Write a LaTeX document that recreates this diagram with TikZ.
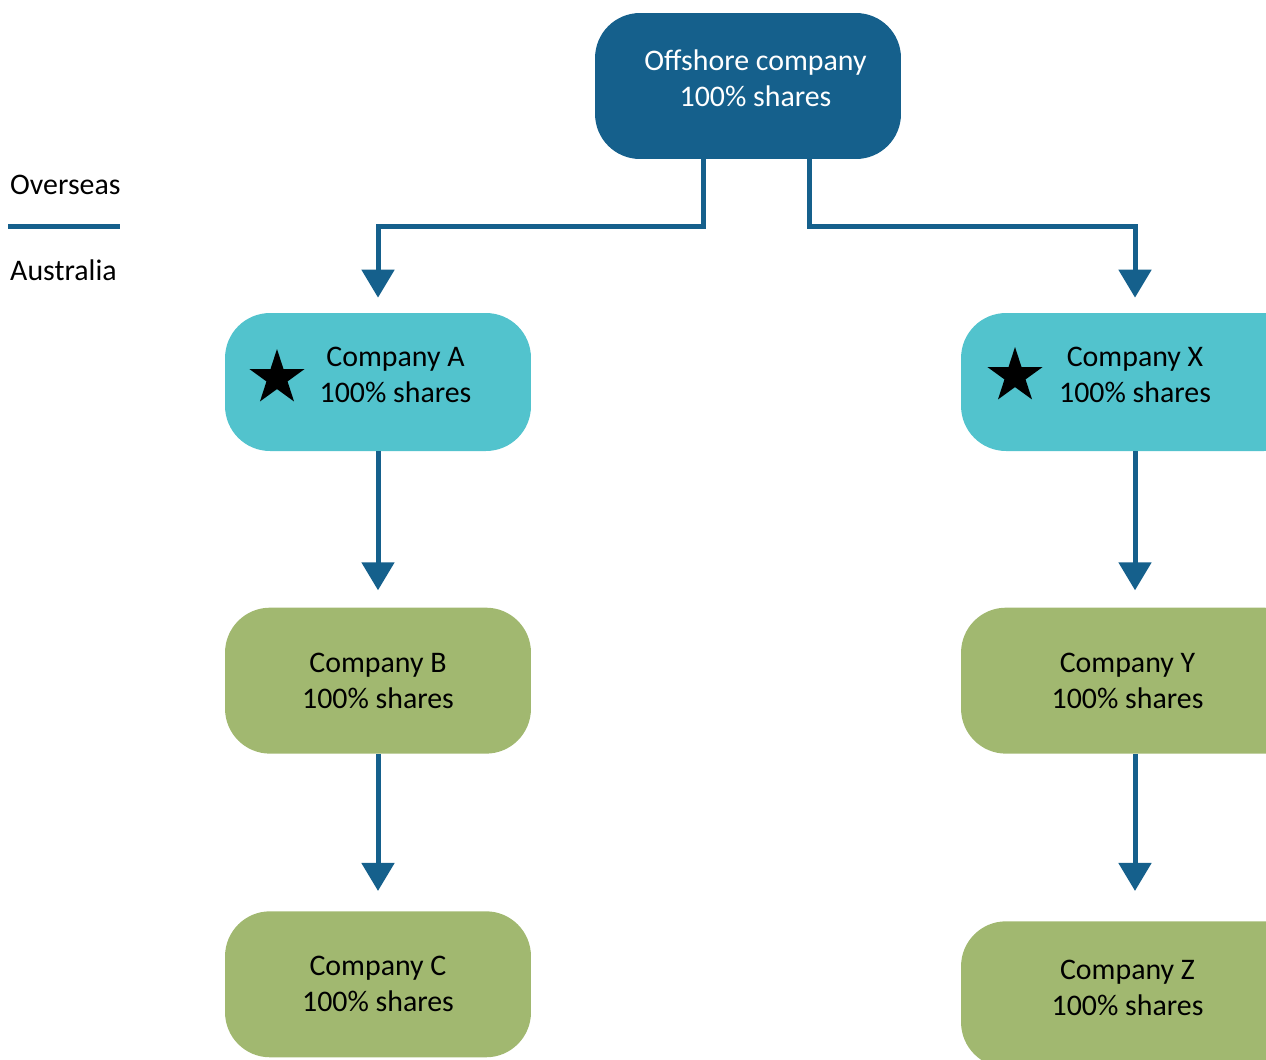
\documentclass[tikz,border=0pt]{standalone}
\usepackage{fontspec}
\setmainfont{Carlito}
\usetikzlibrary{arrows.meta,positioning,shapes.geometric}
\definecolor{ownblue}{RGB}{21,96,140}
\definecolor{owncyan}{RGB}{82,195,205}
\definecolor{owngreen}{RGB}{161,184,112}
\tikzstyle{company}=[
	 rectangle, rounded corners=0.9cm,
	 minimum width=6.12cm, minimum height=2.92cm,
	 align=center, font=\fontsize{17}{20.5}\selectfont
    ]
\tikzstyle{offshore}=[company, fill=ownblue, text=white, text depth=0.3cm]
\tikzstyle{local}=[company, fill=owncyan, minimum height=2.76cm, text depth=0.3cm]
\tikzstyle{sub}=[company, fill=owngreen]
\tikzstyle{wide}=[minimum width=6.96cm]
\tikzstyle{starmark}=[star, star points=5, star point ratio=2.618, fill=black, inner sep=0pt, minimum size=1.16cm]
\tikzstyle{own}=[draw=ownblue, line width=0.1cm, -{Triangle[width=0.64cm,length=0.56cm]}, shorten >=0.3cm]
\newcommand{\pDown}[3]{\draw[own, shorten >=#3] (#1.south) -- (#2.north)}

\begin{document}
\begin{tikzpicture}[x=0.02cm,y=-0.02cm]
\useasboundingbox (0,0) rectangle (1266,1059);

\node[anchor=west, font=\fontsize{17}{20.5}\selectfont] (over) at (4,185) {Overseas};
\node[anchor=west, font=\fontsize{17}{20.5}\selectfont] (aus) at (4,270) {Australia};
\draw[ownblue, line width=0.1cm] (8,226) -- (120,226);

\node[offshore] (O) at (748,86) {\hspace*{0.3cm}Offshore company\\\hspace*{0.3cm}100\% shares};

\node[local] (A) at (378,382) {\hspace*{0.7cm}Company A\\\hspace*{0.7cm}100\% shares};
\node[sub,below=3.12cm of A] (B) {Company B\\100\% shares};
\node[sub,below=3.14cm of B] (C) {Company C\\100\% shares};

\node[local,wide] (X) at (1135,382) {Company X\\100\% shares};
\node[sub,wide,below=3.12cm of X] (Y) {\hspace*{-0.3cm}Company Y\\\hspace*{-0.3cm}100\% shares};
\node[sub,wide,below=3.34cm of Y,text depth=0.25cm] (Z) {\hspace*{-0.3cm}Company Z\\\hspace*{-0.3cm}100\% shares};

\node[starmark] (sA) at (277,378) {};
\node[starmark] (sX) at (1015,376) {};

\draw[own] ([xshift=-0.9cm]O.south) -- ++(0,67) -| (A.north);
\draw[own] ([xshift=1.22cm]O.south) -- ++(0,67) -| (X.north);

\pDown{A}{B}{0.34cm};
\pDown{B}{C}{0.4cm};
\pDown{X}{Y}{0.34cm};
\pDown{Y}{Z}{0.6cm};

\end{tikzpicture}
\end{document}
